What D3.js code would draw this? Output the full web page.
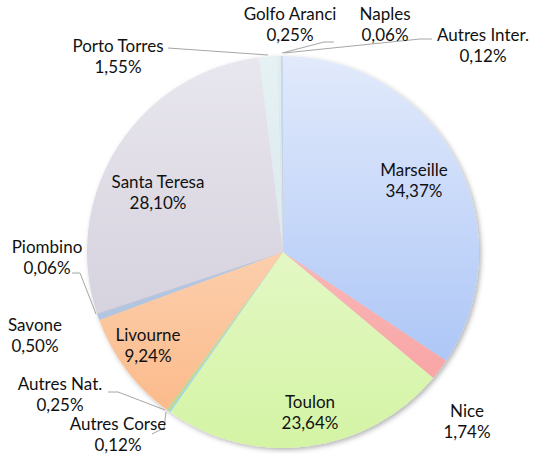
<!DOCTYPE html>
<html>
<head>
<meta charset="utf-8">
<script src="https://cdn.jsdelivr.net/npm/d3@7"></script>
<style>
  body { margin: 0; background: #fff; }
  text { font-family: Lato, "Open Sans", sans-serif; font-size: 17px; fill: #111; }
</style>
</head>
<body>
<div id="chart"></div>
<script>
// data
const ports = ["Marseille", "Nice", "Toulon", "Autres Corse", "Autres Nat.", "Livourne", "Savone",
    "Piombino", "Santa Teresa", "Porto Torres", "Golfo Aranci", "Naples", "Autres Inter."];
const shares = [34.37, 1.74, 23.64, 0.12, 0.25, 9.24, 0.50, 0.06, 28.10, 1.55, 0.25, 0.06, 0.12];

// colours (top, bottom of the vertical gradient)
const colTop = ["#e2eafb", "#fcd2d2", "#f2fbe4", "#b6e2f6", "#d6e8bc", "#fde7d6", "#c4d2e8",
    "#d8d0e0", "#e8e6ee", "#e6f1f3", "#e0eef0", "#f8c8c8", "#c8d8f0"];
const colBot = ["#9fbdf6", "#f89c9c", "#d4f4a4", "#9cd4f0", "#b8d890", "#fbb683", "#a8bedc",
    "#c0b4cc", "#cdc8d6", "#cfe3e8", "#c8e0e4", "#f0a0a0", "#a8c0e8"];

// label positions (centre x, first baseline y)
const labelPos = [[414, 176], [467, 417], [310, 408], [118, 430], [60, 390], [148, 341], [35, 331],
    [47, 253], [158, 188], [118, 52], [290, 20], [385, 20], [483, 41]];
// leader lines
const leaders = {
    "Porto Torres": [[168, 48], [268, 55]],
    "Naples": [[334, 42], [324, 42], [282, 53]],
    "Autres Inter.": [[432, 39], [420, 39], [284, 53]],
    "Piombino": [[72, 273], [80, 273], [96, 314]],
    "Autres Nat.": [[108, 392], [118, 392], [165, 410]],
    "Autres Corse": [[166, 412], [164, 428], [152, 434]]
};

const width = 536, height = 454;
const cx = 283, cy = 252, radius = 196;

const svg = d3.select("#chart").append("svg")
    .attr("width", width)
    .attr("height", height);

const defs = svg.append("defs");

const shadow = defs.append("filter")
    .attr("id", "shadow")
    .attr("x", "-20%").attr("y", "-20%")
    .attr("width", "140%").attr("height", "140%");
shadow.append("feDropShadow")
    .attr("dx", 2).attr("dy", 2)
    .attr("stdDeviation", 2.5)
    .attr("flood-color", "#000")
    .attr("flood-opacity", 0.3);

// one vertical gradient per slice, in the pie group's local coords
ports.forEach((p, i) => {
    let g = defs.append("linearGradient")
        .attr("id", "grad" + i)
        .attr("gradientUnits", "userSpaceOnUse")
        .attr("x1", 0).attr("y1", -radius)
        .attr("x2", 0).attr("y2", radius);
    g.append("stop").attr("offset", "0%").attr("stop-color", colTop[i]);
    g.append("stop").attr("offset", "100%").attr("stop-color", colBot[i]);
});

const data = ports.map((p, i) => ({port: p, value: shares[i], idx: i}));

const pie = d3.pie()
    .sort(null)
    .value(d => d.value);

const arc = d3.arc()
    .innerRadius(0)
    .outerRadius(radius);

const pieGroup = svg.append("g")
    .attr("transform", "translate(" + cx + "," + cy + ")")
    .attr("filter", "url(#shadow)");

pieGroup.selectAll("path")
    .data(pie(data))
    .enter()
    .append("path")
    .attr("d", arc)
    .attr("fill", d => "url(#grad" + d.data.idx + ")");

// leader lines
const line = d3.line();
svg.append("g")
    .selectAll("path")
    .data(Object.values(leaders))
    .enter()
    .append("path")
    .attr("d", d => line(d))
    .attr("fill", "none")
    .attr("stroke", "#a6a6a6")
    .attr("stroke-width", 1);

// labels
const fmt = v => v.toFixed(2).replace(".", ",") + "%";
const labels = svg.append("g");
data.forEach((d, i) => {
    let t = labels.append("text")
        .attr("text-anchor", "middle")
        .attr("x", labelPos[i][0])
        .attr("y", labelPos[i][1]);
    t.append("tspan").attr("x", labelPos[i][0]).text(d.port);
    t.append("tspan").attr("x", labelPos[i][0]).attr("dy", 21).text(fmt(d.value));
});
</script>
</body>
</html>
